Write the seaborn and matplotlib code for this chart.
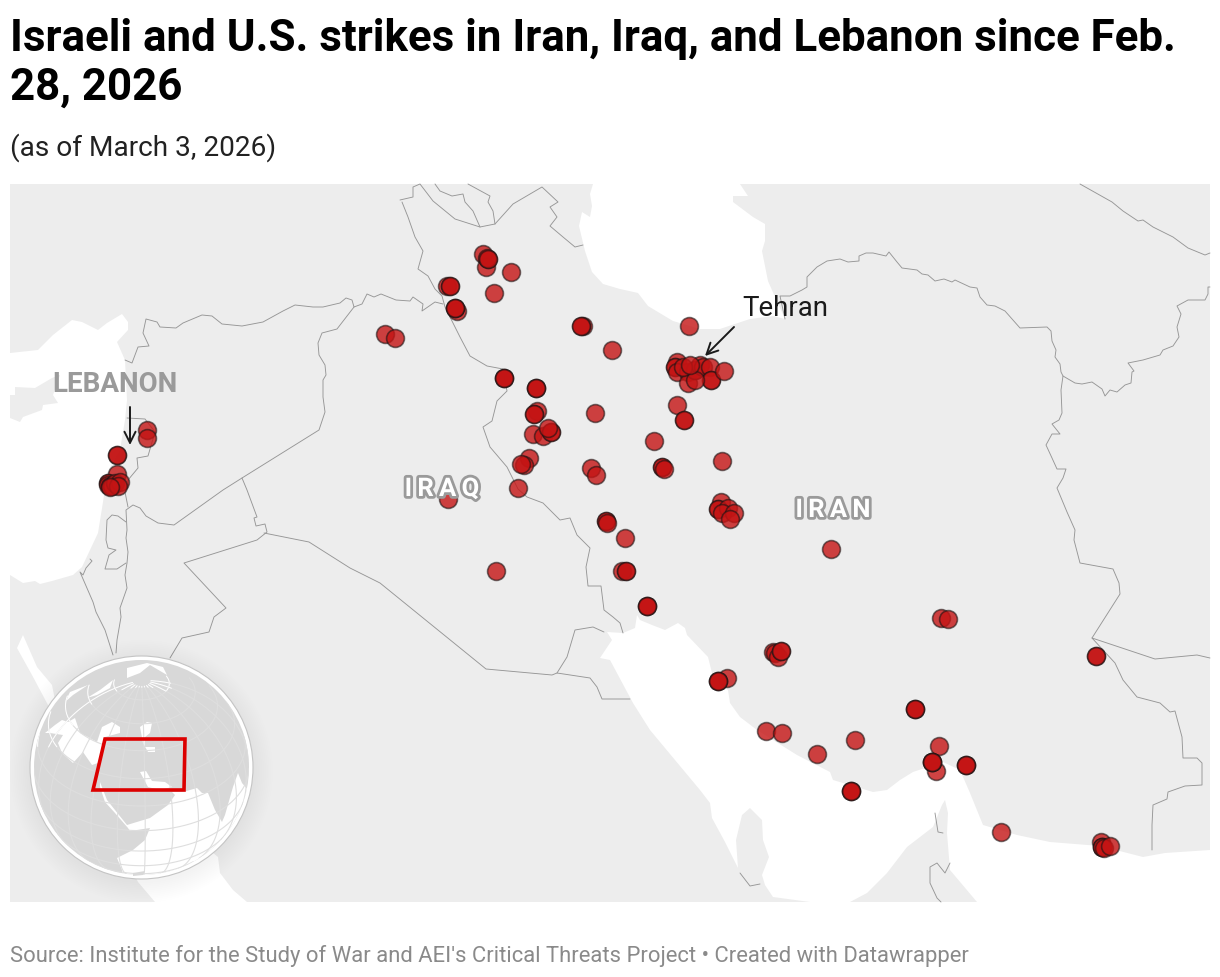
import numpy as np
import pandas as pd
import matplotlib
matplotlib.use("Agg")
import matplotlib.pyplot as plt
import matplotlib.patheffects as pe
from matplotlib.patches import Polygon, Circle, Rectangle
import seaborn as sns

# strike locations (map units, y grows downwards)
strike_x = [483, 486, 488, 487, 488, 511, 494, 447, 450, 450, 457, 455, 455, 455,
            385, 395, 583, 581, 581, 612, 689,
            677, 675, 675, 677, 688, 688, 695, 695, 700, 703, 710, 711, 711, 724, 695, 683, 690,
            677, 684, 684, 504, 504, 504, 536, 536, 536, 537, 534, 534, 595, 533, 543,
            551, 551, 548, 654, 662, 662, 664, 722, 529, 524, 521, 591, 596, 518, 448,
            721, 718, 718, 728, 722, 734, 730, 831, 606, 606, 607, 625, 496, 622, 626, 626,
            647, 647, 647, 727, 718, 718, 718, 773, 775, 778, 781, 781, 766, 782, 817, 855,
            851, 851, 851, 915, 915, 915, 939, 936, 932, 932, 932, 932, 966, 966, 966,
            1001, 1096, 1096, 1101, 1102, 1102, 1102, 1104, 1110, 941, 948,
            147, 147, 117, 117, 117, 108, 108, 108, 110, 112, 115, 120, 118, 110]
strike_y = [254, 267, 259, 258, 259, 272, 293, 286, 286, 286, 311, 308, 308, 308,
            334, 338, 326, 326, 326, 350, 326,
            362, 367, 367, 372, 372, 383, 370, 370, 365, 367, 367, 380, 380, 371, 380, 367, 365,
            405, 420, 420, 378, 378, 378, 388, 388, 388, 411, 414, 414, 413, 434, 436,
            432, 432, 428, 441, 467, 467, 469, 461, 458, 465, 464, 468, 475, 488, 499,
            502, 509, 509, 508, 513, 513, 519, 549, 521, 521, 523, 538, 571, 571, 571, 571,
            606, 606, 606, 678, 681, 681, 681, 652, 653, 657, 651, 651, 731, 733, 754, 740,
            791, 791, 791, 709, 709, 709, 746, 771, 762, 762, 762, 762, 765, 765, 765,
            832, 656, 656, 842, 847, 847, 847, 848, 846, 618, 619,
            430, 438, 455, 455, 474, 483, 483, 485, 486, 486, 483, 482, 486, 487]
strikes = pd.DataFrame({"x": strike_x, "y": strike_y})

title_text = "Israeli and U.S. strikes in Iran, Iraq, and Lebanon since Feb.\n28, 2026"
subtitle_text = "(as of March 3, 2026)"
source_text = "Source: Institute for the Study of War and AEI's Critical Threats Project • Created with Datawrapper"

# water
caspian = [(593, 184), (590, 194), (592, 206), (590, 217), (582, 212), (579, 226), (585, 251), (592, 272),
           (603, 284), (620, 289), (638, 293), (648, 306), (673, 321), (700, 329), (720, 329), (750, 319),
           (773, 316), (785, 319), (775, 297), (768, 281), (762, 251), (765, 241), (765, 224), (753, 217),
           (733, 202), (733, 196), (748, 196), (740, 184)]
gulf = [(637, 615), (640, 620), (652, 625), (665, 630), (678, 623), (685, 628), (687, 635), (708, 657),
        (713, 677), (728, 690), (730, 703), (740, 717), (757, 730), (797, 755), (830, 772), (833, 780),
        (873, 792), (887, 790), (900, 780), (913, 772), (943, 762), (960, 770), (970, 793), (983, 825),
        (1017, 835), (1050, 842), (1100, 846), (1143, 857), (1165, 853), (1210, 850), (1210, 902),
        (977, 902), (950, 870), (947, 833), (948, 813), (945, 800), (942, 805), (933, 827), (907, 847),
        (887, 873), (867, 893), (850, 902), (810, 902), (773, 897), (765, 885), (762, 875), (769, 857),
        (763, 840), (762, 820), (750, 808), (742, 815), (736, 840), (738, 868), (725, 842), (712, 818),
        (710, 803), (700, 790), (650, 730), (633, 703), (610, 660), (600, 658), (612, 640), (607, 632),
        (623, 633), (635, 628)]
med = [(10, 353), (38, 350), (53, 335), (72, 320), (82, 322), (98, 330), (107, 323), (122, 314), (128, 322),
       (128, 330), (117, 342), (125, 360), (127, 400), (125, 420), (120, 450), (107, 473), (103, 502), (98, 533),
       (82, 567), (73, 575), (52, 581), (40, 584), (35, 581), (23, 583), (10, 575)]
cyprus = [(10, 395), (15, 395), (15, 387), (35, 388), (52, 378), (60, 375), (53, 395), (58, 403), (43, 405),
          (42, 410), (23, 417), (20, 422), (10, 418)]
red_sea = [(23, 635), (37, 667), (52, 685), (55, 700), (150, 800), (218, 857), (220, 873), (233, 890), (247, 902),
           (155, 902), (138, 882), (48, 705), (32, 675), (17, 648)]

# borders
borders = [
    [(402, 202), (408, 217), (415, 237), (423, 251), (418, 269), (428, 276), (435, 289), (442, 296), (445, 307),
     (455, 327), (460, 337), (470, 356), (487, 366), (503, 369), (507, 391), (497, 401), (492, 421), (483, 427),
     (490, 447), (507, 467), (518, 489), (527, 497), (543, 503), (560, 520), (570, 518), (577, 535), (590, 548),
     (586, 567), (588, 586), (601, 586), (604, 610), (613, 617), (620, 623), (623, 633)],
    [(400, 200), (413, 197), (413, 187), (420, 184), (433, 201), (455, 219), (480, 227), (495, 224), (513, 204),
     (542, 187), (558, 202), (550, 207), (557, 217), (550, 226), (563, 237), (575, 247), (583, 245)],
    [(435, 184), (440, 191), (452, 196), (463, 194), (465, 202), (473, 211), (480, 227)],
    [(468, 184), (490, 196), (488, 202), (493, 211), (495, 224)],
    [(125, 360), (132, 363), (138, 347), (149, 346), (143, 333), (146, 319), (157, 322), (160, 327), (176, 328),
     (183, 323), (202, 315), (212, 316), (222, 324), (242, 326), (263, 322), (283, 311), (295, 305), (313, 307),
     (323, 307), (340, 303), (346, 298), (352, 300), (354, 307), (362, 304), (367, 294), (374, 297), (381, 294),
     (396, 300), (410, 301), (413, 297), (423, 304), (422, 311), (435, 302), (443, 304)],
    [(354, 307), (337, 329), (322, 333), (318, 343), (319, 355), (325, 365), (326, 375), (323, 380), (323, 397),
     (325, 412), (319, 430), (242, 478), (223, 490), (174, 525), (158, 523), (146, 516), (140, 508), (133, 505),
     (126, 510), (127, 530), (126, 538), (128, 552), (127, 563), (125, 575), (127, 588), (120, 608), (121, 617),
     (117, 640), (116, 653)],
    [(127, 418), (145, 419), (155, 432), (148, 456), (137, 458), (138, 468), (128, 480), (125, 492), (128, 507)],
    [(126, 522), (118, 516), (112, 515), (107, 520), (106, 540), (108, 548), (116, 550), (109, 555), (105, 569),
     (117, 569), (126, 563)],
    [(90, 559), (92, 561), (86, 568), (83, 575), (80, 572), (93, 602), (96, 612), (105, 630), (113, 655)],
    [(242, 478), (247, 490), (257, 517), (254, 518), (256, 526), (265, 524), (267, 532), (257, 540), (184, 563),
     (226, 608), (214, 617), (209, 632), (182, 638), (170, 658)],
    [(264, 533), (309, 542), (350, 568), (380, 583), (486, 669), (552, 675), (557, 673), (567, 657), (575, 630),
     (593, 627), (604, 632)],
    [(557, 673), (590, 678), (597, 687), (602, 699), (630, 699)],
    [(785, 319), (780, 296), (790, 296), (802, 290), (807, 287), (807, 277), (817, 267), (827, 261), (840, 259),
     (848, 262), (859, 261), (859, 256), (866, 253), (873, 253), (886, 256), (889, 252), (897, 262), (902, 268),
     (917, 270), (922, 274), (928, 275), (935, 281), (944, 279), (952, 282), (955, 280), (970, 287), (977, 288),
     (980, 297), (987, 305), (995, 306), (1005, 311), (1020, 328), (1047, 327), (1051, 331), (1052, 341),
     (1056, 350), (1055, 357), (1060, 364), (1061, 372), (1063, 376), (1075, 383), (1082, 384), (1092, 382),
     (1102, 389), (1105, 396), (1110, 390), (1117, 392), (1125, 385), (1131, 383), (1132, 372), (1134, 371),
     (1128, 363), (1143, 360), (1160, 355), (1163, 350), (1173, 346), (1179, 337), (1177, 327), (1181, 314),
     (1177, 306), (1188, 300), (1205, 300), (1208, 294), (1208, 287), (1210, 287)],
    [(1080, 184), (1112, 202), (1123, 211), (1138, 221), (1143, 220), (1153, 227), (1173, 237), (1188, 248),
     (1205, 255), (1210, 253)],
    [(1063, 376), (1061, 390), (1062, 413), (1059, 420), (1052, 424), (1060, 434), (1052, 434), (1046, 445),
     (1052, 458), (1057, 469), (1066, 469), (1063, 478), (1057, 488), (1067, 512), (1075, 530), (1074, 540),
     (1080, 563), (1113, 569), (1119, 583), (1120, 594), (1092, 638), (1115, 663), (1123, 680), (1137, 697),
     (1160, 703), (1170, 712), (1175, 711), (1182, 737), (1183, 758), (1197, 758), (1202, 763), (1202, 785),
     (1185, 786), (1168, 792), (1167, 799), (1153, 805), (1152, 825), (1152, 850)],
    [(1092, 638), (1155, 659), (1197, 655), (1210, 658)],
    [(935, 813), (938, 832), (943, 833)],
    [(950, 863), (945, 873), (937, 863), (930, 867), (930, 883), (937, 898), (941, 902)],
    [(740, 873), (750, 886), (760, 884)],
]

# globe inset
globe_water = [
    [(100, 782), (107, 800), (115, 810), (127, 825), (150, 818), (168, 805), (175, 795), (172, 792), (183, 792),
     (197, 788), (202, 793), (208, 793), (215, 810), (222, 822), (225, 815), (233, 787), (238, 773), (242, 783),
     (248, 790), (253, 777), (270, 800), (270, 900), (125, 900), (122, 870), (117, 858), (133, 850), (145, 840),
     (150, 828), (130, 831), (128, 828), (115, 813), (105, 802), (100, 787)],
    [(140, 772), (146, 771), (152, 781), (165, 782), (172, 787), (160, 790), (148, 787)],
    [(45, 733), (55, 725), (62, 720), (68, 722), (75, 718), (80, 733), (88, 737), (97, 742), (102, 727), (112, 722),
     (120, 727), (120, 733), (105, 737), (102, 750), (98, 763), (92, 765), (83, 752), (73, 763), (62, 753), (58, 743),
     (63, 735), (50, 733)],
    [(140, 727), (147, 722), (152, 723), (150, 733), (145, 737), (145, 747), (155, 747), (155, 752), (148, 752),
     (143, 743)],
    [(127, 678), (140, 673), (150, 665), (167, 675), (163, 667), (147, 663), (127, 668)],
    [(87, 698), (100, 690), (113, 680), (110, 688), (97, 695)],
    [(65, 702), (73, 695), (88, 685), (70, 692)],
]
madagascar = [(133, 873), (145, 871), (143, 875), (133, 876)]
globe_box = [(105, 739), (185, 739), (184, 790), (93, 790)]

sns.set_theme(style="white")
plt.rcParams["font.family"] = ["Roboto", "DejaVu Sans"]

fig = plt.figure(figsize=(12.2, 9.78), dpi=100)
ax = fig.add_axes([0, 0, 1, 1])
ax.axis("off")

frame = Rectangle((10, 184), 1200, 718, fc="#ededed", ec="none", zorder=1)
ax.add_patch(frame)
for shape in [med, red_sea, caspian, gulf]:
    p = Polygon(shape, closed=True, fc="white", ec="none", zorder=2)
    ax.add_patch(p)
    p.set_clip_path(frame)
ax.add_patch(Polygon(cyprus, closed=True, fc="#ededed", ec="none", zorder=3))

for line in borders:
    xs, ys = zip(*line)
    ax.plot(xs, ys, color="#969696", lw=0.65, zorder=4, solid_joinstyle="round")

# strikes, fill and ring get their own opacity
sns.scatterplot(data=strikes, x="x", y="y", ax=ax, s=165, color="#c41414", legend=False, zorder=5)
dots = ax.collections[-1]
dots.set_alpha(None)
dots.set_facecolor((0.77, 0.08, 0.08, 0.8))
dots.set_edgecolor((0.1, 0.08, 0.08, 0.6))
dots.set_linewidth(1.2)
ax.set_xlim(0, 1220)
ax.set_ylim(977, -1)
ax.set_xlabel("")
ax.set_ylabel("")

# globe
gx, gy, gr = 141.5, 767.5, 111.5
for k in range(12):
    ax.add_patch(Circle((gx, gy + 4), gr + 20 - k * 1.8, fc="black", ec="none", alpha=0.005, zorder=6))
ax.add_patch(Circle((gx, gy), gr, fc="white", ec="#c4c4c4", lw=0.8, zorder=7))
disc = Circle((gx, gy), gr - 4, fc="#d8d8d8", ec="none", zorder=8)
ax.add_patch(disc)
for shape in globe_water:
    p = Polygon(shape, closed=True, fc="white", ec="none", zorder=9)
    ax.add_patch(p)
    p.set_clip_path(disc)

# graticule, orthographic around the box
lat0, lon0 = np.radians(36), np.radians(43)


def project(lat, lon):
    lat, lon = np.radians(lat), np.radians(lon)
    vis = np.sin(lat0) * np.sin(lat) + np.cos(lat0) * np.cos(lat) * np.cos(lon - lon0)
    px = np.cos(lat) * np.sin(lon - lon0)
    py = np.cos(lat0) * np.sin(lat) - np.sin(lat0) * np.cos(lat) * np.cos(lon - lon0)
    px = np.where(vis > 0, gx + (gr - 4) * px, np.nan)
    py = np.where(vis > 0, gy - (gr - 4) * py, np.nan)
    return px, py


def draw_grid(px, py):
    # grey everywhere, white only along the upper left rim
    rim = (np.hypot(px - gx, py - gy) > 80) & (px < gx + 30) & (py < gy - 20)
    l, = ax.plot(px, py, color="#dedede", lw=0.8, zorder=10)
    l.set_clip_path(disc)
    l, = ax.plot(np.where(rim, px, np.nan), np.where(rim, py, np.nan), color="white", lw=0.7, zorder=10)
    l.set_clip_path(disc)


for lat in range(-60, 90, 15):
    lons = np.linspace(-60, 160, 200)
    draw_grid(*project(np.full_like(lons, lat), lons))
for lon in range(-30, 150, 15):
    lats = np.linspace(-80, 85, 200)
    draw_grid(*project(lats, np.full_like(lats, lon)))
ax.add_patch(Polygon(madagascar, closed=True, fc="#d8d8d8", ec="none", zorder=10.5))

ax.add_patch(Polygon(globe_box, closed=True, fc="none", ec="#dc0000", lw=2.6, zorder=11, joinstyle="miter"))

# labels
outline = [pe.withStroke(linewidth=4, foreground="#9a9a9a")]
for name, lx, ly in [("I\u2009R\u2009A\u2009Q", 442, 489), ("I\u2009R\u2009A\u2009N", 833, 510)]:
    ax.text(lx, ly, name, color="white", fontsize=18.5, fontweight="bold", ha="center", va="center",
            path_effects=outline, zorder=12)
ax.text(115, 384, "LEBANON", color="#9a9a9a", fontsize=20, fontweight="bold", ha="center", va="center", zorder=12)
ax.text(742, 307.5, "Tehran", color="#1a1a1a", fontsize=19.9, ha="left", va="center", zorder=12)
ax.annotate("", xy=(705, 356), xytext=(734, 327),
            arrowprops=dict(arrowstyle="->", color="#1a1a1a", lw=1.4, mutation_scale=20, shrinkA=0, shrinkB=0), zorder=12)
ax.annotate("", xy=(130, 445), xytext=(130, 407),
            arrowprops=dict(arrowstyle="->", color="#1a1a1a", lw=1.4, mutation_scale=20, shrinkA=0, shrinkB=0), zorder=12)

ax.text(10, 62, title_text, color="black", fontsize=31.6, fontweight="bold", ha="left", va="center",
        linespacing=1.2)
ax.text(10, 147, subtitle_text, color="#222222", fontsize=20.2, ha="left", va="center")
ax.text(10, 955, source_text, color="#8a8a8a", fontsize=15.8, ha="left", va="center")

fig.savefig("out.png", dpi=100)
